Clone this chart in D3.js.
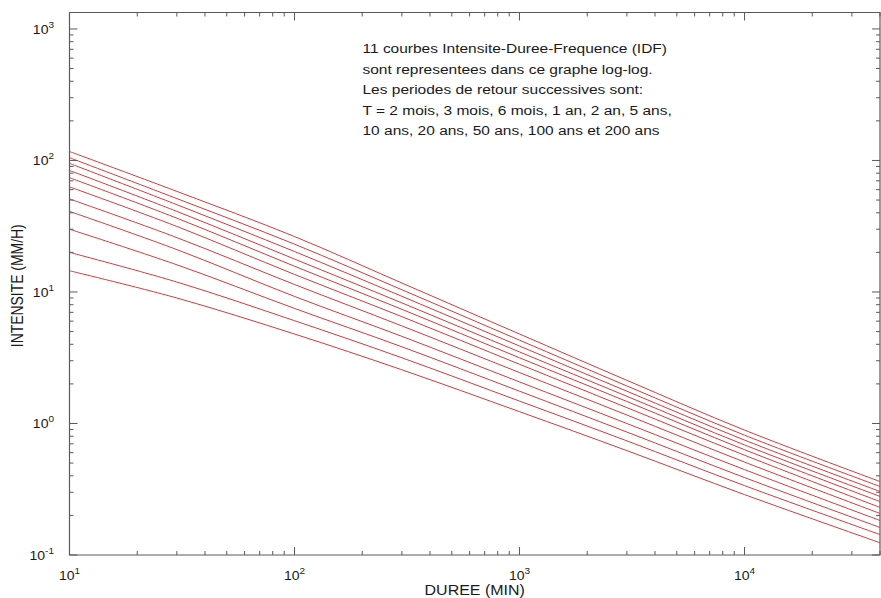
<!DOCTYPE html>
<html><head><meta charset="utf-8">
<script src="https://cdn.jsdelivr.net/npm/d3@7"></script>
<style>
html,body{margin:0;padding:0;background:#fff;}
svg{display:block;}
text{font-family:"Liberation Sans",Arial,Helvetica,sans-serif;fill:#1a1a1a;}
</style></head><body>
<svg id="chart" width="881" height="598"></svg>
<script>
// Durations (minutes) at which each IDF curve is sampled
const durations = [10, 30, 100, 300, 1000, 3000, 10000, 40000];
const returnPeriods = ["2 mois", "3 mois", "6 mois", "1 an", "2 ans", "5 ans",
                       "10 ans", "20 ans", "50 ans", "100 ans", "200 ans"];
// Intensities (mm/h) per return period, at the durations above
const i2mois   = [14.5, 9.0,  4.79, 2.56, 1.23, 0.622, 0.288, 0.124];
const i3mois   = [20,   11.9, 6.05, 3.16, 1.48, 0.738, 0.337, 0.143];
const i6mois   = [30,   16.1, 7.5,  3.83, 1.76, 0.861, 0.388, 0.162];
const i1an     = [41,   21.0, 9.25, 4.60, 2.07, 1.00,  0.446, 0.183];
const i2ans    = [51,   25.9, 11.4, 5.52, 2.44, 1.16,  0.509, 0.207];
const i5ans    = [63,   31.5, 13.6, 6.49, 2.82, 1.32,  0.574, 0.230];
const i10ans   = [74,   36.4, 15.7, 7.38, 3.16, 1.47,  0.632, 0.255];
const i20ans   = [84,   41.0, 17.8, 8.26, 3.50, 1.61,  0.687, 0.279];
const i50ans   = [95,   46.1, 20.3, 9.27, 3.88, 1.76,  0.748, 0.304];
const i100ans  = [105,  51.3, 23.1, 10.4, 4.30, 1.93,  0.815, 0.332];
const i200ans  = [117,  58.2, 26.4, 11.7, 4.79, 2.13,  0.891, 0.362];
const intensitySeries = [i2mois, i3mois, i6mois, i1an, i2ans, i5ans,
                         i10ans, i20ans, i50ans, i100ans, i200ans];

// Axis tick labels (powers of ten)
const xTickExponents = [1, 2, 3, 4];
const yTickExponents = [-1, 0, 1, 2, 3];

const annotationLines = [
  "11 courbes Intensite-Duree-Frequence (IDF)",
  "sont representees dans ce graphe log-log.",
  "Les periodes de retour successives sont:",
  "T = 2 mois, 3 mois, 6 mois, 1 an, 2 an, 5 ans,",
  "10 ans, 20 ans, 50 ans, 100 ans et 200 ans"
];
const xTitle = "DUREE (MIN)";
const yTitle = "INTENSITE (MM/H)";

// ---- layout ----
const plotLeft = 69.5, plotRight = 880, plotTop = 12.5, plotBottom = 555;
const squish = 0.87;           // vertical squeeze of the lettering
const axisColor = "#5a5a5a";
const curveColor = "#d23a3a";

const svg = d3.select("#chart");

const x = d3.scaleLog().domain([10, 40000]).range([plotLeft, plotRight]);
const y = d3.scaleLog().domain([0.1, Math.pow(10, 3.125)]).range([plotBottom, plotTop]);

// clip for curves
svg.append("clipPath").attr("id", "plotClip")
  .append("rect").attr("x", plotLeft).attr("y", plotTop)
  .attr("width", plotRight - plotLeft).attr("height", plotBottom - plotTop);

// ---- curves ----
const line = d3.line()
  .x((d, i) => x(durations[i]))
  .y(d => y(d))
  .curve(d3.curveCatmullRom.alpha(0.5));

svg.append("g").attr("clip-path", "url(#plotClip)")
  .selectAll("path").data(intensitySeries).join("path")
  .attr("d", line)
  .attr("fill", "none")
  .attr("stroke", curveColor)
  .attr("stroke-width", 1);

// ---- frame ----
svg.append("path")
  .attr("d", `M${plotLeft},${plotTop}H${plotRight}V${plotBottom}H${plotLeft}Z`)
  .attr("stroke", axisColor).attr("stroke-width", 1.2).attr("fill", "none");

// ---- ticks (log majors + minors), drawn inward on all four sides ----
function logTicks(domain) {
  const [a, b] = domain;
  const out = [];
  for (let e = Math.floor(Math.log10(a)); e <= Math.ceil(Math.log10(b)); e++) {
    for (let m = 1; m <= 9; m++) {
      const v = m * Math.pow(10, e);
      if (v >= a * 0.9999 && v <= b * 1.0001) out.push({ v, major: m === 1 });
    }
  }
  return out;
}
const majorLen = 8, minorLen = 4;
const tickG = svg.append("g").attr("stroke", axisColor).attr("stroke-width", 1);
logTicks(x.domain()).forEach(t => {
  const px = x(t.v), len = t.major ? majorLen : minorLen;
  tickG.append("line").attr("x1", px).attr("x2", px).attr("y1", plotBottom).attr("y2", plotBottom - len);
  tickG.append("line").attr("x1", px).attr("x2", px).attr("y1", plotTop).attr("y2", plotTop + len);
});
logTicks(y.domain()).forEach(t => {
  const py = y(t.v), len = t.major ? majorLen : minorLen;
  tickG.append("line").attr("y1", py).attr("y2", py).attr("x1", plotLeft).attr("x2", plotLeft + len);
  tickG.append("line").attr("y1", py).attr("y2", py).attr("x1", plotRight).attr("x2", plotRight - len);
});

// ---- tick labels: 10 with a raised exponent ----
function powerLabel(g, e) {
  g.append("tspan").text("10");
  g.append("tspan").attr("dy", -7).attr("font-size", 10).text(String(e));
}
xTickExponents.forEach(e => {
  const t = svg.append("text")
    .attr("transform", `translate(${x(Math.pow(10, e))},580) scale(1,${squish})`)
    .attr("text-anchor", "middle").attr("font-size", 14);
  powerLabel(t, e);
});
yTickExponents.forEach(e => {
  const t = svg.append("text")
    .attr("transform", `translate(54,${y(Math.pow(10, e)) + 5}) scale(1,${squish})`)
    .attr("text-anchor", "end").attr("font-size", 14);
  powerLabel(t, e);
});

// ---- axis titles ----
svg.append("text")
  .attr("transform", `translate(${(plotLeft + plotRight) / 2},595) scale(1,${squish})`)
  .attr("text-anchor", "middle").attr("font-size", 16).text(xTitle);
svg.append("text")
  .attr("transform", `translate(22.5,${(plotTop + plotBottom) / 2 + 2}) rotate(-90) scale(${squish},1)`)
  .attr("text-anchor", "middle").attr("font-size", 16).text(yTitle);

// ---- annotation block ----
annotationLines.forEach((s, k) => {
  svg.append("text")
    .attr("transform", `translate(362.5,${53 + k * 20.5}) scale(1,${squish})`)
    .attr("font-size", 15.5).text(s);
});
</script>
</body></html>
